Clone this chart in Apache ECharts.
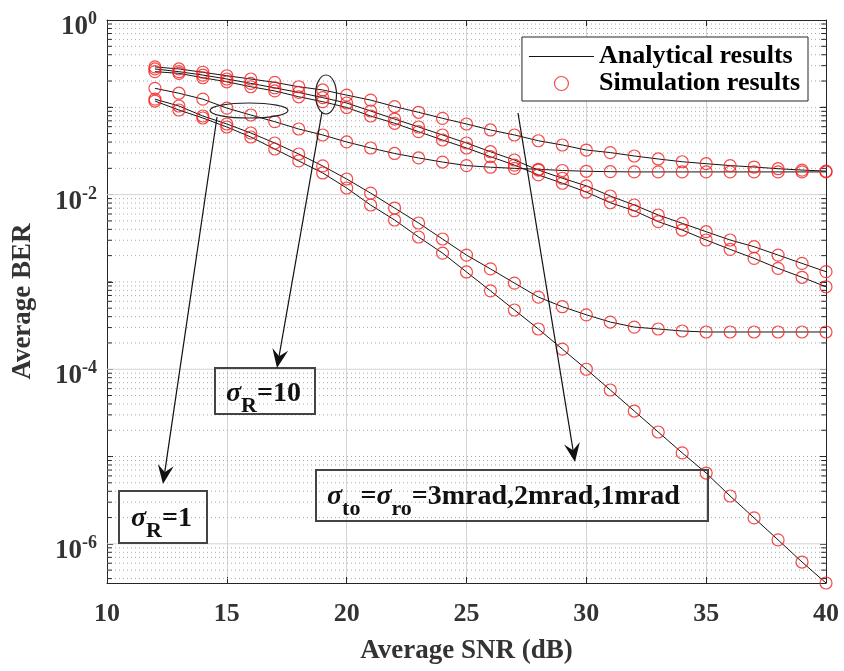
<!DOCTYPE html>
<html>
<head>
<meta charset="utf-8">
<script src="https://cdn.jsdelivr.net/npm/echarts@6/dist/echarts.min.js"></script>
<style>
  html, body { margin: 0; padding: 0; background: #fff; }
  #chart { width: 844px; height: 671px; }
</style>
</head>
<body>
<div id="chart"></div>
<script>
var snr = [12, 13, 14, 15, 16, 17, 18, 19, 20, 21, 22, 23, 24, 25, 26, 27, 28, 29, 30, 31, 32, 33, 34, 35, 36, 37, 38, 39, 40];

// sigma_R = 10
var berR10_3mrad = [0.29, 0.275, 0.252, 0.23, 0.211, 0.193, 0.172, 0.158, 0.138, 0.121, 0.102, 0.0877, 0.0748, 0.0644, 0.055, 0.0482, 0.0414, 0.037, 0.0324, 0.0303, 0.0277, 0.0256, 0.0238, 0.0226, 0.0215, 0.0207, 0.0198, 0.0191, 0.0186];
var berR10_2mrad = [0.275, 0.256, 0.234, 0.211, 0.188, 0.167, 0.148, 0.129, 0.112, 0.0907, 0.0734, 0.0595, 0.0482, 0.039, 0.031, 0.0249, 0.0191, 0.0154, 0.0126, 0.00964, 0.0076, 0.00584, 0.00469, 0.00376, 0.00302, 0.00253, 0.00203, 0.00163, 0.00131];
var berR10_1mrad = [0.256, 0.245, 0.218, 0.196, 0.172, 0.154, 0.132, 0.116, 0.0995, 0.0795, 0.0656, 0.0526, 0.0422, 0.0342, 0.0272, 0.0218, 0.0168, 0.0135, 0.0107, 0.00807, 0.00654, 0.0049, 0.00393, 0.00302, 0.00236, 0.00186, 0.00143, 0.00113, 0.00088];
// sigma_R = 1
var berR1_3mrad = [0.165, 0.145, 0.124, 0.098, 0.0816, 0.0684, 0.0564, 0.0482, 0.0401, 0.0342, 0.0296, 0.0263, 0.0236, 0.0215, 0.0206, 0.02, 0.0195, 0.0189, 0.0185, 0.0183, 0.0182, 0.0182, 0.0182, 0.0182, 0.0182, 0.0182, 0.0182, 0.0182, 0.0182];
var berR1_2mrad = [0.124, 0.1035, 0.0795, 0.0644, 0.0508, 0.039, 0.0292, 0.0213, 0.0151, 0.0104, 0.00702, 0.00473, 0.0031, 0.00203, 0.00141, 0.00097, 0.00067, 0.00052, 0.00042, 0.000347, 0.000304, 0.000289, 0.000274, 0.000267, 0.000267, 0.000267, 0.000267, 0.000267, 0.000267];
var berR1_1mrad = [0.118, 0.0931, 0.0754, 0.0595, 0.0457, 0.0333, 0.0243, 0.0177, 0.0119, 0.0076, 0.00512, 0.00327, 0.00214, 0.0013, 0.00079, 0.000477, 0.000289, 0.00017, 0.0001, 5.78e-5, 3.32e-5, 1.91e-5, 1.1e-5, 6.47e-6, 3.53e-6, 1.98e-6, 1.11e-6, 6.19e-7, 3.56e-7];

var xTicks = [10, 15, 20, 25, 30, 35, 40];
var yMajorTicks = [1, 1e-2, 1e-4, 1e-6];
var minorSteps = [1, 2, 3, 4, 5, 6, 7, 8, 9];

var curves = [berR10_3mrad, berR10_2mrad, berR10_1mrad, berR1_3mrad, berR1_2mrad, berR1_1mrad];
var yMin = Math.min.apply(null, berR1_1mrad);
var xMin = xTicks[0], xMax = xTicks[xTicks.length - 1];
var serif = 'Liberation Serif';
var ink = '#262626';

function pairs(ys) {
  return snr.map(function (x, i) { return [x, ys[i]]; });
}

// log grid positions: 2..9 x 10^n and the unlabeled decades
var minorVals = [];
for (var e = 0; e >= -7; e--) {
  minorSteps.forEach(function (m) {
    var v = m * Math.pow(10, e);
    if (v >= yMin && v < 1 && yMajorTicks.indexOf(v) < 0) minorVals.push(v);
  });
}
var majorVals = yMajorTicks.filter(function (v) { return v < 1 && v > yMin; });

// horizontal segments in data space, broken by empty points
function segments(vals, x0, x1) {
  var d = [];
  vals.forEach(function (v) { d.push([x0, v], [x1, v], [x1, '-']); });
  return d;
}

function helper(data, style) {
  return {
    type: 'line', name: '_helper', data: data, symbol: 'none', silent: true,
    connectNulls: false, z: 1, lineStyle: style, emphasis: { disabled: true }
  };
}

var series = [
  helper(segments(minorVals, xMin, xMax), { type: [1, 3], color: '#ababab', width: 1 }),
  helper(segments(majorVals, xMin, xMax), { type: 'solid', color: '#d4d4d4', width: 1 }),
  helper(segments(minorVals, xMin, xMin + 0.2).concat(segments(minorVals, xMax - 0.2, xMax)), { type: 'solid', color: ink, width: 1 })
];
curves.forEach(function (c) {
  series.push({
    type: 'line', name: 'Analytical results', data: pairs(c),
    symbol: 'none', lineStyle: { color: '#151515', width: 1 }, z: 3
  });
});
curves.forEach(function (c) {
  series.push({
    type: 'scatter', name: 'Simulation results', data: pairs(c),
    symbol: 'circle', symbolSize: 12,
    itemStyle: { color: 'transparent', borderColor: '#f21d1d', borderWidth: 1.2 }, z: 4
  });
});

function arrow(x1, y1, x2, y2) {
  var dx = x2 - x1, dy = y2 - y1, len = Math.sqrt(dx * dx + dy * dy);
  var ux = dx / len, uy = dy / len, px = -uy, py = ux;
  var L = 19, W = 8, back = 12;
  var bx = x2 - ux * L, by = y2 - uy * L, nx = x2 - ux * back, ny = y2 - uy * back;
  return [
    { type: 'line', shape: { x1: x1, y1: y1, x2: nx, y2: ny }, style: { stroke: '#111', lineWidth: 1.2 }, z: 10 },
    { type: 'polygon', shape: { points: [[x2, y2], [bx + px * W, by + py * W], [nx, ny], [bx - px * W, by - py * W]] }, style: { fill: '#111' }, z: 10 }
  ];
}

var rich = {
  s: { fontFamily: serif, fontStyle: 'italic', fontWeight: 'bold', fontSize: 28, fill: '#111', lineHeight: 27, verticalAlign: 'top' },
  m: { fontFamily: serif, fontWeight: 'bold', fontSize: 28, fill: '#111', lineHeight: 27, verticalAlign: 'top' },
  sub: { fontFamily: serif, fontWeight: 'bold', fontSize: 22, fill: '#111', lineHeight: 37, verticalAlign: 'bottom' }
};

var graphics = [
  { type: 'ellipse', shape: { cx: 249, cy: 110.5, rx: 39, ry: 7.5 }, style: { fill: 'none', stroke: '#222', lineWidth: 1.2 }, z: 10 },
  { type: 'ellipse', shape: { cx: 326, cy: 94.5, rx: 10.5, ry: 19.5 }, style: { fill: 'none', stroke: '#222', lineWidth: 1.2 }, z: 10 },
  { type: 'rect', shape: { x: 215, y: 368, width: 100, height: 46 }, style: { fill: 'none', stroke: '#444', lineWidth: 2 }, z: 10 },
  { type: 'rect', shape: { x: 119, y: 491, width: 88, height: 52 }, style: { fill: 'none', stroke: '#444', lineWidth: 2 }, z: 10 },
  { type: 'rect', shape: { x: 316, y: 470, width: 392, height: 51 }, style: { fill: 'none', stroke: '#444', lineWidth: 2 }, z: 10 },
  { type: 'text', x: 226, y: 380, style: { text: '{s|σ}{sub|R}{m|=10}', rich: rich }, z: 10 },
  { type: 'text', x: 131, y: 505, style: { text: '{s|σ}{sub|R}{m|=1}', rich: rich }, z: 10 },
  { type: 'text', x: 327, y: 483, style: { text: '{s|σ}{sub|to}{m|=}{s|σ}{sub|ro}{m|=3mrad,2mrad,1mrad}', rich: rich }, z: 10 }
].concat(arrow(217, 117, 163, 484), arrow(322, 112, 277, 368), arrow(518, 113, 575, 462));

var chart = echarts.init(document.getElementById('chart'), null, { renderer: 'canvas' });
var axisLineStyle = { color: ink, width: 1 };

chart.setOption({
  animation: false,
  backgroundColor: '#fff',
  grid: { left: 107, right: 18, top: 20, bottom: 88, containLabel: false },
  legend: {
    data: [
      { name: 'Analytical results', icon: 'path://M0,0H80V1.3H0Z', itemStyle: { color: '#151515' } },
      { name: 'Simulation results', itemStyle: { color: 'transparent', borderColor: '#f21d1d', borderWidth: 1.2 } }
    ],
    orient: 'vertical', right: 36, top: 37,
    itemWidth: 65, itemHeight: 14, itemGap: 0,
    padding: [6, 8, 4, 7],
    backgroundColor: '#fff', borderColor: ink, borderWidth: 1,
    selectedMode: false,
    textStyle: { fontFamily: serif, fontWeight: 'bold', fontSize: 26, color: '#000', lineHeight: 27 }
  },
  xAxis: [{
    type: 'value', min: xMin, max: xMax, interval: 5,
    name: 'Average SNR (dB)', nameLocation: 'middle', nameGap: 55,
    nameTextStyle: { fontFamily: serif, fontWeight: 'bold', fontSize: 27, color: '#333' },
    axisLine: { lineStyle: axisLineStyle },
    axisTick: { inside: true, length: 6, lineStyle: axisLineStyle },
    axisLabel: { fontFamily: serif, fontWeight: 'bold', fontSize: 26, color: '#333', margin: 18 },
    splitLine: { show: true, showMinLine: false, showMaxLine: false, lineStyle: { color: '#d4d4d4', width: 1 } }
  }, {
    type: 'value', position: 'top', min: xMin, max: xMax, interval: 5,
    axisLine: { lineStyle: axisLineStyle },
    axisTick: { inside: true, length: 6, lineStyle: axisLineStyle },
    axisLabel: { show: false }, splitLine: { show: false }
  }],
  yAxis: [{
    type: 'log', min: yMin, max: 1, logBase: 10,
    name: 'Average BER', nameLocation: 'middle', nameGap: 70,
    nameTextStyle: { fontFamily: serif, fontWeight: 'bold', fontSize: 27, color: '#333' },
    axisLine: { show: true, lineStyle: axisLineStyle },
    axisTick: { show: true, inside: true, length: 6, lineStyle: axisLineStyle },
    splitLine: { show: false },
    axisLabel: {
      margin: 10, padding: [11, 0, 0, 0],
      formatter: function (v) {
        var lg = Math.log10(v), ex = Math.round(lg);
        if (Math.abs(lg - ex) > 1e-6 || ex % 2 !== 0) return '';
        return '{b|10}{p|' + ex + '}';
      },
      rich: {
        b: { fontFamily: serif, fontWeight: 'bold', fontSize: 27, color: '#333', lineHeight: 30, verticalAlign: 'bottom' },
        p: { fontFamily: serif, fontWeight: 'bold', fontSize: 18, color: '#333', lineHeight: 14, verticalAlign: 'top' }
      }
    }
  }, {
    type: 'log', position: 'right', min: yMin, max: 1, logBase: 10,
    axisLine: { show: true, lineStyle: axisLineStyle },
    axisTick: { show: true, inside: true, length: 6, lineStyle: axisLineStyle },
    axisLabel: { show: false }, splitLine: { show: false }
  }],
  series: series,
  graphic: graphics
});
</script>
</body>
</html>
